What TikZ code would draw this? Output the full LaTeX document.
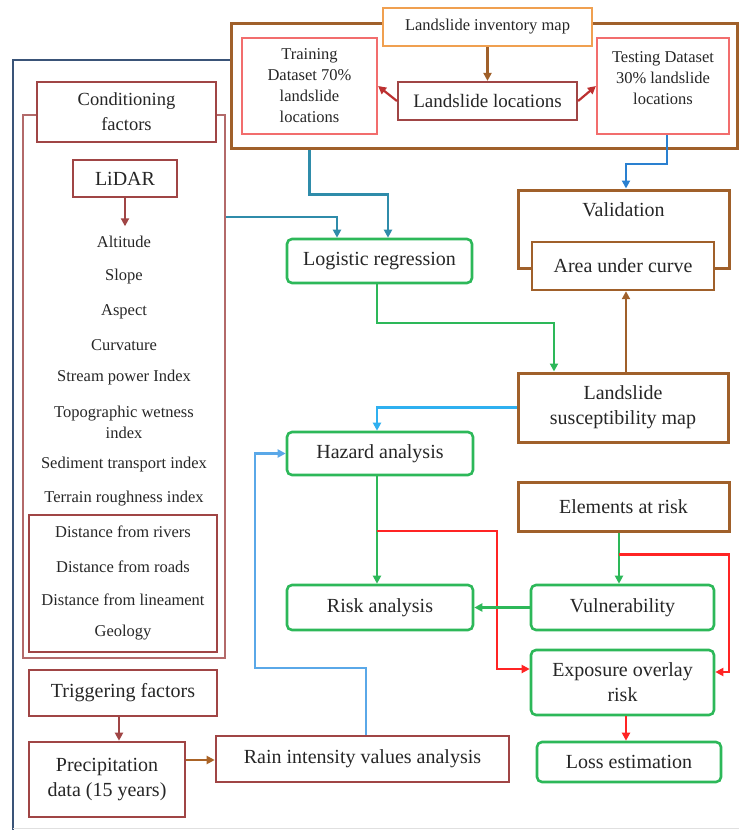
\documentclass[tikz,border=0pt]{standalone}
\usepackage{fontspec}
\setmainfont{Liberation Serif}
\usetikzlibrary{arrows.meta,calc}
\definecolor{cbrown}{HTML}{A0602A}
\definecolor{cdred}{HTML}{A04545}
\definecolor{clred}{HTML}{F26D6D}
\definecolor{corange}{HTML}{F0A050}
\definecolor{cgreen}{HTML}{2DB859}
\definecolor{cteal}{HTML}{2F8CAA}
\definecolor{cnavy}{HTML}{3A5478}
\definecolor{cred}{HTML}{FF2424}
\definecolor{cblue}{HTML}{2A80D0}
\definecolor{ccyan}{HTML}{2FB0F0}
\definecolor{clblue}{HTML}{5AA8E8}
\definecolor{ctxt}{HTML}{262626}
\tikzset{
  every node/.style={text=ctxt, font=\fontsize{20}{25}\selectfont, align=center, inner sep=0pt},
  rbox/.style={draw, fill=white, line width=2.2pt},
  brownbox/.style={rbox, draw=cbrown, line width=3pt},
  dredbox/.style={rbox, draw=cdred, line width=2.6pt},
  lredbox/.style={rbox, draw=clred},
  greenbox/.style={rbox, draw=cgreen, line width=2.6pt, rounded corners=5pt},
  smalltxt/.style={font=\fontsize{16.5}{21}\selectfont},
  tip/.style={-{Triangle[length=8pt,width=8pt]}},
  conn/.style={line width=2.2pt},
}
\begin{document}
\begin{tikzpicture}[x=1pt,y=-1pt]
\useasboundingbox (0,0) rectangle (739,830);
% outer navy frame
\draw[cnavy, line width=2.4pt] (231,60) -- (13,60) -- (13,830);
\draw[cnavy, line width=2.4pt] (737,60) -- (739,60);
\draw[black!12, line width=1pt] (13,828) -- (739,828);
% top brown frame
\node[brownbox, fill=none, minimum width=506, minimum height=125] (topframe) at (484,85.5) {};
\node[rbox, draw=corange, smalltxt, minimum width=209, minimum height=38] (inv) at (487.5,27) {Landslide inventory map};
\node[lredbox, smalltxt, minimum width=135, minimum height=96] (train) at (309.5,86) {Training\\Dataset 70\%\\landslide\\locations};
\node[dredbox, line width=2.2pt, minimum width=179, minimum height=38, font=\fontsize{19}{21}\selectfont] (locs) at (487.5,101) {Landslide locations};
\node[lredbox, minimum width=132, minimum height=96] (test) at (663,86) {};
\node[smalltxt] (testtxt) at (663,78) {Testing Dataset\\30\% landslide\\locations};
% conditioning factors
\node[draw=cdred!80, line width=2pt, minimum width=202, minimum height=543] (condframe) at (124,386.5) {};
\node[dredbox, minimum width=179, minimum height=60, font=\fontsize{18.5}{25}\selectfont] (cond) at (126.5,112) {Conditioning\\factors};
\node[dredbox, minimum width=104, minimum height=37] (lidar) at (125,178.5) {LiDAR};
\node[smalltxt] (alt) at (124,242) {Altitude};
\node[smalltxt] (slope) at (124,277) {Slope};
\node[smalltxt] (aspect) at (124,312) {Aspect};
\node[smalltxt] (curv) at (124,345) {Curvature};
\node[smalltxt] (spi) at (124,378) {Stream power Index};
\node[smalltxt] (twi) at (124,422) {Topographic wetness\\index};
\node[smalltxt] (sti) at (124,465) {Sediment transport index};
\node[smalltxt] (tri) at (124,499) {Terrain roughness index};
\node[dredbox, fill=none, minimum width=188, minimum height=137] (distbox) at (123,583.5) {};
\node[smalltxt] (drivers) at (123,532) {Distance from rivers};
\node[smalltxt] (droads) at (123,567) {Distance from roads};
\node[smalltxt] (dline) at (123,600) {Distance from lineament};
\node[smalltxt] (geo) at (123,633) {Geology};
% triggering
\node[dredbox, minimum width=188, minimum height=46] (trig) at (123,693) {Triggering factors};
\node[dredbox, minimum width=156, minimum height=75] (precip) at (107,779.5) {Precipitation\\data (15 years)};
\node[dredbox, minimum width=293, minimum height=46] (rain) at (362.5,759) {Rain intensity values analysis};
% right column
\node[greenbox, minimum width=185, minimum height=44] (logit) at (379.5,261) {Logistic regression};
\node[brownbox, minimum width=211, minimum height=78] (valid) at (623.5,229) {};
\node (validtxt) at (623.5,210) {Validation};
\node[rbox, draw=cbrown, line width=2.4pt, minimum width=182, minimum height=48] (auc) at (623,266) {Area under curve};
\node[brownbox, minimum width=210, minimum height=69] (susc) at (623,407.5) {Landslide\\susceptibility map};
\node[greenbox, minimum width=186, minimum height=43] (hazard) at (380,453.5) {Hazard analysis};
\node[brownbox, minimum width=211, minimum height=49] (elem) at (623.5,506.5) {Elements at risk};
\node[greenbox, minimum width=186, minimum height=45] (risk) at (380,607.5) {Risk analysis};
\node[greenbox, minimum width=183, minimum height=45] (vuln) at (622.5,607.5) {Vulnerability};
\node[greenbox, minimum width=183, minimum height=65] (expo) at (622.5,682.5) {Exposure overlay\\risk};
\node[greenbox, minimum width=184, minimum height=40] (loss) at (629,762) {Loss estimation};
% connectors
\draw[conn, cbrown, tip] (inv.south) -- (locs.north);
\draw[conn, cdred!70!red, tip] (locs.west) -- (train.east);
\draw[conn, cdred!70!red, tip] (locs.east) -- (test.west);
\draw[conn, cdred, tip] (lidar.south) -- ++(0,28);
\draw[conn, cteal, tip] (train.south |- topframe.south) -- ++(0,45) -| ([xshift=8.5pt]logit.north);
\draw[conn, cteal, tip] ($(condframe.north east)+(0,103)$) -| ([xshift=-42.5pt]logit.north);
\draw[conn, cgreen, tip] ([xshift=-2.5pt]logit.south) -- ++(0,39) -| ([xshift=-69pt]susc.north);
\draw[conn, cbrown, tip] ([xshift=3pt]susc.north) -- ([xshift=3pt]auc.south);
\draw[conn, cblue, tip] ([xshift=4pt]test.south) -- ++(0,29) -| ([xshift=2.5pt]valid.north);
\draw[conn, ccyan, tip] (susc.west) -| ([xshift=-3pt]hazard.north);
\draw[conn, cgreen, tip] ([xshift=-3pt]hazard.south) -- ([xshift=-3pt]risk.north);
\coordinate (hp) at ($(hazard.south)+(-3,55)$);
\draw[conn, cred, tip] (hp) -| ([xshift=-33pt,yshift=13.5pt]expo.west) -- ([yshift=13.5pt]expo.west);
\draw[conn, cgreen, tip] ([xshift=-4.5pt]elem.south) -- ([xshift=-3.5pt]vuln.north);
\coordinate (ep) at ($(elem.south)+(-4.5,22)$);
\draw[conn, cred, tip] (ep) -| ([xshift=14pt,yshift=10.5pt]expo.east) -- ([yshift=10.5pt]expo.east);
\draw[conn, cgreen, tip] (vuln.west) -- (risk.east);
\draw[conn, cred, tip] ([xshift=3.5pt]expo.south) -- ([xshift=-3pt]loss.north);
\draw[conn, cdred, tip] ([xshift=-4pt]trig.south) -- ([xshift=12pt]precip.north);
\draw[conn, cbrown!90!orange, tip] ([yshift=19.5pt]precip.east) -- ([yshift=19.5pt]precip.east -| rain.west);
\draw[conn, clblue, tip] ([xshift=3.5pt]rain.north) -- ++(0,-67) -- ++(-111,0) |- (hazard.west);
\end{tikzpicture}
\end{document}
